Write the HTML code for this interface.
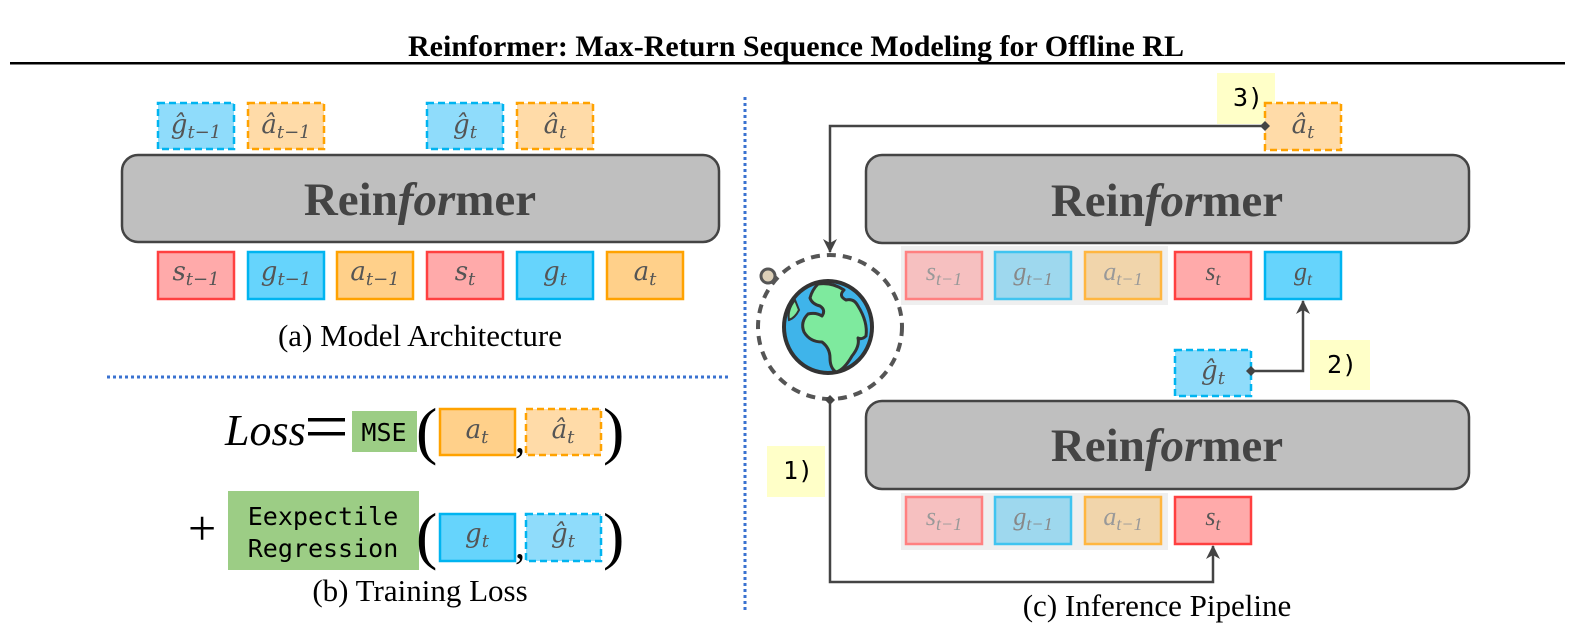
<!DOCTYPE html>
<html><head><meta charset="utf-8"><style>
body{margin:0;background:#fff}
svg text{font-family:"Liberation Serif",serif}
.tok{font-family:"DejaVu Serif","Liberation Serif",serif;font-style:italic;font-size:26px;fill:#555}
.sub{font-size:18px}
.rf{font-family:"Liberation Serif",serif;font-weight:bold;font-size:47px;fill:#444}
.mono{font-family:"DejaVu Sans Mono","Liberation Mono",monospace;font-size:25px;fill:#000}
.cap{font-size:31px;fill:#000}
</style></head><body>
<svg width="1592" height="626" viewBox="0 0 1592 626" xmlns="http://www.w3.org/2000/svg">
<defs>
<marker id="ar" markerWidth="14" markerHeight="14" refX="13" refY="7" orient="auto" markerUnits="userSpaceOnUse" viewBox="0 0 14 14">
<path d="M0,0 L14,7 L0,14 L4,7 Z" fill="#444"/></marker>
</defs>
<text x="796" y="56" text-anchor="middle" font-weight="bold" font-size="30">Reinformer: Max-Return Sequence Modeling for Offline RL</text>
<rect x="10" y="62" width="1555" height="2.5" fill="#000"/>
<line x1="745" y1="97" x2="745" y2="612" stroke="#3a72d0" stroke-width="3" stroke-dasharray="3,3"/>
<line x1="107" y1="377" x2="731" y2="377" stroke="#3a72d0" stroke-width="3" stroke-dasharray="3,3"/>

<!-- Panel a -->
<g stroke-width="2.5">
<rect x="158" y="103" width="76" height="46" fill="#8fdcfb" stroke="#00b4f0" stroke-dasharray="7,4"/>
<rect x="248" y="103" width="76" height="46" fill="#ffdba8" stroke="#ffa200" stroke-dasharray="7,4"/>
<rect x="427" y="103" width="76" height="46" fill="#8fdcfb" stroke="#00b4f0" stroke-dasharray="7,4"/>
<rect x="517" y="103" width="76" height="46" fill="#ffdba8" stroke="#ffa200" stroke-dasharray="7,4"/>
</g>
<text class="tok" x="196" y="133" text-anchor="middle">ĝ<tspan class="sub" dy="5">t−1</tspan></text>
<text class="tok" x="286" y="133" text-anchor="middle">â<tspan class="sub" dy="5">t−1</tspan></text>
<text class="tok" x="465" y="133" text-anchor="middle">ĝ<tspan class="sub" dy="5">t</tspan></text>
<text class="tok" x="555" y="133" text-anchor="middle">â<tspan class="sub" dy="5">t</tspan></text>
<rect x="122" y="155" width="597" height="87" rx="16" fill="#bfbfbf" stroke="#444" stroke-width="2.5"/>
<text class="rf" x="420" y="215" text-anchor="middle">Rein<tspan font-style="italic">for</tspan>mer</text>
<g stroke-width="2.5">
<rect x="158" y="252" width="76" height="47" fill="#ffaaaa" stroke="#ff4040"/>
<rect x="248" y="252" width="76" height="47" fill="#66d4fc" stroke="#00b4f0"/>
<rect x="337" y="252" width="76" height="47" fill="#ffd08a" stroke="#ffa200"/>
<rect x="427" y="252" width="76" height="47" fill="#ffaaaa" stroke="#ff4040"/>
<rect x="517" y="252" width="76" height="47" fill="#66d4fc" stroke="#00b4f0"/>
<rect x="607" y="252" width="76" height="47" fill="#ffd08a" stroke="#ffa200"/>
</g>
<text class="tok" x="196" y="280" text-anchor="middle">s<tspan class="sub" dy="5">t−1</tspan></text>
<text class="tok" x="286" y="280" text-anchor="middle">g<tspan class="sub" dy="5">t−1</tspan></text>
<text class="tok" x="375" y="280" text-anchor="middle">a<tspan class="sub" dy="5">t−1</tspan></text>
<text class="tok" x="465" y="280" text-anchor="middle">s<tspan class="sub" dy="5">t</tspan></text>
<text class="tok" x="555" y="280" text-anchor="middle">g<tspan class="sub" dy="5">t</tspan></text>
<text class="tok" x="645" y="280" text-anchor="middle">a<tspan class="sub" dy="5">t</tspan></text>
<text class="cap" x="420" y="346" text-anchor="middle">(a) Model Architecture</text>

<!-- Panel b -->
<text x="225" y="445" font-size="44" font-style="italic">Loss</text>
<rect x="308" y="418" width="37" height="3.5" fill="#000"/>
<rect x="308" y="432" width="37" height="3.5" fill="#000"/>
<rect x="352" y="411" width="65" height="41" fill="#9ccd85"/>
<text class="mono" x="384" y="441" text-anchor="middle" font-size="27">MSE</text>
<text x="416" y="452" font-size="64">(</text>
<rect x="440" y="409" width="75" height="46" fill="#ffd08a" stroke="#ffa200" stroke-width="2.5"/>
<text class="tok" x="477" y="438" text-anchor="middle">a<tspan class="sub" dy="5">t</tspan></text>
<text x="515" y="452" font-size="40">,</text>
<rect x="526" y="409" width="75" height="46" fill="#ffdba8" stroke="#ffa200" stroke-width="2.5" stroke-dasharray="7,4"/>
<text class="tok" x="563" y="438" text-anchor="middle">â<tspan class="sub" dy="5">t</tspan></text>
<text x="603" y="452" font-size="64">)</text>

<text x="188" y="545" font-size="50">+</text>
<rect x="228" y="491" width="191" height="79" fill="#9ccd85"/>
<text class="mono" x="323" y="525" text-anchor="middle" font-size="28">Eexpectile</text>
<text class="mono" x="323" y="557" text-anchor="middle" font-size="28">Regression</text>
<text x="416" y="557" font-size="64">(</text>
<rect x="440" y="514" width="75" height="47" fill="#66d4fc" stroke="#00b4f0" stroke-width="2.5"/>
<text class="tok" x="477" y="542" text-anchor="middle">g<tspan class="sub" dy="5">t</tspan></text>
<text x="515" y="558" font-size="40">,</text>
<rect x="526" y="514" width="75" height="47" fill="#8fdcfb" stroke="#00b4f0" stroke-width="2.5" stroke-dasharray="7,4"/>
<text class="tok" x="563" y="542" text-anchor="middle">ĝ<tspan class="sub" dy="5">t</tspan></text>
<text x="603" y="557" font-size="64">)</text>
<text class="cap" x="420" y="601" text-anchor="middle">(b) Training Loss</text>

<!-- Panel c -->
<rect x="1217" y="73" width="58" height="51" fill="#ffffc8"/>
<text class="mono" x="1248" y="106" text-anchor="middle">3)</text>
<rect x="1265" y="103" width="76" height="47" fill="#ffdba8" stroke="#ffa200" stroke-width="2.5" stroke-dasharray="7,4"/>
<text class="tok" x="1303" y="133" text-anchor="middle">â<tspan class="sub" dy="5">t</tspan></text>
<polyline points="1265,126 830,126 830,252" fill="none" stroke="#444" stroke-width="2.5" marker-end="url(#ar)"/>
<path d="M1265,121 l5,5 l-5,5 l-5,-5z" fill="#444"/>
<rect x="866" y="155" width="603" height="88" rx="16" fill="#bfbfbf" stroke="#444" stroke-width="2.5"/>
<text class="rf" x="1167" y="216" text-anchor="middle">Rein<tspan font-style="italic">for</tspan>mer</text>
<rect x="901" y="246" width="267" height="59" fill="#efefef"/>
<g stroke-width="2.5">
<rect x="906" y="252" width="76" height="47" fill="#f6c0c0" stroke="#ff8080"/>
<rect x="995" y="252" width="76" height="47" fill="#9ed8ee" stroke="#40c4f0"/>
<rect x="1085" y="252" width="76" height="47" fill="#f1d5ab" stroke="#ffb640"/>
<rect x="1175" y="252" width="76" height="47" fill="#ffaaaa" stroke="#ff4040"/>
<rect x="1265" y="252" width="76" height="47" fill="#66d4fc" stroke="#00b4f0"/>
</g>
<g class="tok" text-anchor="middle">
<text x="944" y="280" style="fill:#999">s<tspan class="sub" dy="5">t−1</tspan></text>
<text x="1033" y="280" style="fill:#888">g<tspan class="sub" dy="5">t−1</tspan></text>
<text x="1123" y="280" style="fill:#999">a<tspan class="sub" dy="5">t−1</tspan></text>
<text x="1213" y="280">s<tspan class="sub" dy="5">t</tspan></text>
<text x="1303" y="280">g<tspan class="sub" dy="5">t</tspan></text>
</g>
<!-- globe -->
<circle cx="830" cy="327" r="72" fill="none" stroke="#555" stroke-width="4" stroke-dasharray="9,7"/>
<circle cx="768" cy="276" r="7" fill="#ddd0b8" stroke="#555" stroke-width="3"/>
<ellipse cx="828" cy="327" rx="44" ry="46" fill="#3fb4ea" stroke="#333" stroke-width="4"/>
<path d="M818,284 q14,-2 26,6 q-6,6 2,10 q8,-2 12,6 q10,16 8,30 q-4,4 -8,2 q2,8 -6,18 q-8,14 -16,16 q-6,-4 -6,-14 q0,-10 -8,-16 q-12,0 -18,-10 q-4,-10 4,-18 q8,-2 14,2 q4,-6 -2,-10 q-8,-2 -10,-8 q2,-8 8,-14z" fill="#7eea9e" stroke="#333" stroke-width="3" stroke-linejoin="round"/>
<path d="M795,300 q-8,10 -6,20 q6,-2 10,-10z" fill="#7eea9e" stroke="#333" stroke-width="2"/>
<rect x="1310" y="340" width="60" height="50" fill="#ffffc8"/>
<text class="mono" x="1342" y="373" text-anchor="middle">2)</text>
<rect x="1175" y="350" width="76" height="46" fill="#8fdcfb" stroke="#00b4f0" stroke-width="2.5" stroke-dasharray="7,4"/>
<text class="tok" x="1213" y="379" text-anchor="middle">ĝ<tspan class="sub" dy="5">t</tspan></text>
<polyline points="1251,371 1303,371 1303,301" fill="none" stroke="#444" stroke-width="2.5" marker-end="url(#ar)"/>
<path d="M1251,366 l5,5 l-5,5 l-5,-5z" fill="#444"/>
<rect x="866" y="401" width="603" height="88" rx="16" fill="#bfbfbf" stroke="#444" stroke-width="2.5"/>
<text class="rf" x="1167" y="461" text-anchor="middle">Rein<tspan font-style="italic">for</tspan>mer</text>
<rect x="767" y="446" width="58" height="51" fill="#ffffc8"/>
<text class="mono" x="798" y="479" text-anchor="middle">1)</text>
<rect x="901" y="493" width="267" height="57" fill="#efefef"/>
<g stroke-width="2.5">
<rect x="906" y="497" width="76" height="47" fill="#f6c0c0" stroke="#ff8080"/>
<rect x="995" y="497" width="76" height="47" fill="#9ed8ee" stroke="#40c4f0"/>
<rect x="1085" y="497" width="76" height="47" fill="#f1d5ab" stroke="#ffb640"/>
<rect x="1175" y="497" width="76" height="47" fill="#ffaaaa" stroke="#ff4040"/>
</g>
<g class="tok" text-anchor="middle">
<text x="944" y="525" style="fill:#999">s<tspan class="sub" dy="5">t−1</tspan></text>
<text x="1033" y="525" style="fill:#888">g<tspan class="sub" dy="5">t−1</tspan></text>
<text x="1123" y="525" style="fill:#999">a<tspan class="sub" dy="5">t−1</tspan></text>
<text x="1213" y="525">s<tspan class="sub" dy="5">t</tspan></text>
</g>
<polyline points="830,401 830,582 1213,582 1213,546" fill="none" stroke="#444" stroke-width="2.5" marker-end="url(#ar)"/>
<path d="M830,395 l5,5 l-5,5 l-5,-5z" fill="#444"/>
<text class="cap" x="1157" y="616" text-anchor="middle">(c) Inference Pipeline</text>
</svg>
</body></html>
